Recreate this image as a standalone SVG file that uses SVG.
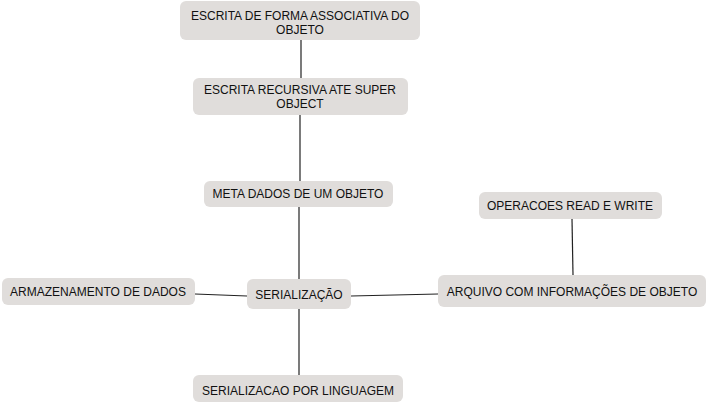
<svg xmlns="http://www.w3.org/2000/svg" width="708" height="404" viewBox="0 0 708 404">
<style>
.n rect{fill:#e0dddb;stroke:none}
.n text{font-family:"Liberation Sans",Arial,sans-serif;font-size:12px;fill:#111;text-anchor:middle}
.c line{stroke:#222;stroke-width:1.2}
</style>
<rect width="708" height="404" fill="#fff"/>
<g class="c">
<line x1="301" y1="40" x2="301" y2="78"/>
<line x1="300" y1="115" x2="300" y2="181"/>
<line x1="299" y1="207" x2="299" y2="279"/>
<line x1="299" y1="309" x2="299" y2="375"/>
<line x1="195" y1="294" x2="247" y2="296" stroke="#555"/>
<line x1="351" y1="296" x2="438" y2="294" stroke="#444"/>
<line x1="572" y1="219" x2="573" y2="275" stroke="#444"/>
</g>
<g id="n1" class="n"><rect x="180" y="1" width="240" height="39" rx="6"/><text x="300" y="20">ESCRITA DE FORMA ASSOCIATIVA DO</text><text x="300" y="34">OBJETO</text></g>
<g id="n2" class="n"><rect x="193" y="78" width="215" height="37" rx="6"/><text x="300" y="94">ESCRITA RECURSIVA ATE SUPER</text><text x="300" y="108">OBJECT</text></g>
<g id="n3" class="n"><rect x="204" y="181" width="189" height="26" rx="6"/><text x="298" y="198">META DADOS DE UM OBJETO</text></g>
<g id="n4" class="n"><rect x="247" y="279" width="104" height="30" rx="6"/><text x="299" y="299">SERIALIZAÇÃO</text></g>
<g id="n5" class="n"><rect x="2" y="278" width="193" height="27" rx="6"/><text x="98" y="296">ARMAZENAMENTO DE DADOS</text></g>
<g id="n6" class="n"><rect x="479" y="192" width="183" height="27" rx="6"/><text x="570" y="210">OPERACOES READ E WRITE</text></g>
<g id="n7" class="n"><rect x="438" y="275" width="268" height="32" rx="6"/><text x="572" y="296">ARQUIVO COM INFORMAÇÕES DE OBJETO</text></g>
<g id="n8" class="n"><rect x="193" y="375" width="210" height="27" rx="6"/><text x="298" y="395">SERIALIZACAO POR LINGUAGEM</text></g>
</svg>
